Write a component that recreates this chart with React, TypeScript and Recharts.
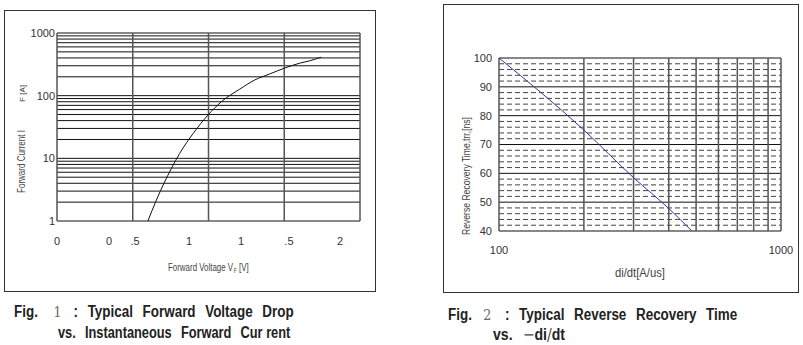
import React from "react";
import { CartesianGrid, Line, LineChart, XAxis, YAxis } from "recharts";

// Fig. 1 — forward voltage drop vs forward current
const fwdVoltage = [0.6, 0.656, 0.755, 0.81, 0.899, 0.998, 1.085, 1.206, 1.305, 1.404, 1.503, 1.602, 1.668, 1.745];
const fwdCurrent = [1, 2.16, 6.9, 12, 25, 49.5, 80, 127, 178, 222, 276, 330, 360, 412];
const fwdGridX = [0, 0.5, 1, 1.5, 2];
const fwdGridY = [
  1, 2, 3, 4, 5, 6, 7, 8, 9, 10, 20, 30, 40, 50, 60, 70, 80, 90, 100, 200,
  300, 400, 500, 600, 700, 800, 900, 1000,
];
const fwdYLabels = [1, 10, 100, 1000];
// the scanned datasheet splits "0.5" / "1.5" into separate pieces
const fwdXTickPos = [0, 0.343, 0.515, 0.871, 1.215, 1.531, 1.868];
const fwdXTickText = ["0", "0", ".5", "1", "1", ".5", "2"];

// Fig. 2 — reverse recovery time vs di/dt
const didt = [100, 200, 300, 400, 483];
const trr = [100, 75, 58.5, 47.8, 40];
const rrGridX = [100, 200, 300, 400, 500, 600, 700, 800, 900, 1000];
const rrMajorY = [40, 50, 60, 70, 80, 90, 100];
const rrMinorY = [
  42, 44, 46, 48, 52, 54, 56, 58, 62, 64, 66, 68, 72, 74, 76, 78, 82, 84, 86,
  88, 92, 94, 96, 98,
];
const rrXLabels = [100, 1000];

const SANS = "'Liberation Sans', Arial, sans-serif";
const tickStyle = { fill: "#333", fontSize: 11, fontFamily: SANS };

const fwdData = fwdVoltage.map((v, i) => ({ v, i: fwdCurrent[i] }));
const rrData = didt.map((d, i) => ({ d, t: trr[i] }));

// the datasheet uses a condensed face; squeeze Liberation Sans horizontally
const caption = (sx: number): React.CSSProperties => ({
  position: "absolute",
  fontFamily: SANS,
  fontWeight: "bold",
  fontSize: 16,
  color: "#222",
  whiteSpace: "pre",
  lineHeight: "18px",
  wordSpacing: 7,
  transform: `scaleX(${sx})`,
  transformOrigin: "left center",
});
const num = (ml: number, mr: number): React.CSSProperties => ({
  fontFamily: "'DejaVu Serif', serif",
  fontWeight: "normal",
  color: "#666",
  fontSize: 15,
  marginLeft: ml,
  marginRight: mr,
});
const thin: React.CSSProperties = {
  fontFamily: "'DejaVu Serif', serif",
  fontWeight: "normal",
  color: "#444",
};

function FwdYLabel() {
  return (
    <g fontFamily={SANS} fill="#444">
      <text
        transform="rotate(-90 25 193)"
        x={25}
        y={193}
        fontSize={11}
        textLength={63}
        lengthAdjust="spacingAndGlyphs"
      >
        Forward  Current  I
      </text>
      <text
        transform="rotate(-90 25 102)"
        x={25}
        y={102}
        fontSize={8}
        textLength={17}
        lengthAdjust="spacingAndGlyphs"
      >
        F [A]
      </text>
    </g>
  );
}

function FwdXLabel() {
  return (
    <text transform="translate(168 271) scale(0.72 1)" fontFamily={SANS} fill="#444" fontSize={11}>
      Forward  Voltage  V
      <tspan fontSize={7} dy={2} dx={1}>
        F
      </tspan>
      <tspan dy={-2} dx={3}>
        [V]
      </tspan>
    </text>
  );
}

export default function App() {
  return (
    <div style={{ position: "absolute", left: 0, top: 0, width: 803, height: 345, background: "#fff" }}>
      <div style={{ position: "absolute", left: 4, top: 10, width: 370, height: 280, border: "1px solid #333" }} />
      <div style={{ position: "absolute", left: 443, top: 4, width: 354, height: 287, border: "1px solid #333" }} />

      <div style={{ position: "absolute", left: 0, top: 0 }}>
        <LineChart width={400} height={290} data={fwdData} margin={{ top: 33, right: 40, bottom: 68, left: 56 }}>
          <CartesianGrid vertical={false} horizontalValues={fwdGridY} stroke="#111" strokeWidth={1} />
          <CartesianGrid horizontal={false} verticalValues={fwdGridX} stroke="#555" strokeWidth={1.5} />
          <XAxis
            dataKey="v"
            type="number"
            domain={[0, 2]}
            ticks={fwdXTickPos}
            interval={0}
            tickFormatter={(_v: number, i: number) => fwdXTickText[i]}
            axisLine={false}
            tickLine={false}
            tickSize={0}
            tickMargin={16}
            height={1}
            tick={tickStyle}
            allowDataOverflow
          />
          <YAxis
            type="number"
            scale="log"
            domain={[1, 1000]}
            ticks={fwdGridY}
            interval={0}
            tickFormatter={(v: number) => (fwdYLabels.includes(v) ? String(v) : "")}
            axisLine={false}
            tickLine={false}
            tickSize={0}
            tickMargin={2}
            width={1}
            tick={tickStyle}
            allowDataOverflow
          />
          <Line dataKey="i" type="monotone" stroke="#111" strokeWidth={1} dot={false} isAnimationActive={false} />
          <FwdYLabel />
          <FwdXLabel />
        </LineChart>
      </div>

      <div style={{ position: "absolute", left: 420, top: 0 }}>
        <LineChart width={383} height={290} data={rrData} margin={{ top: 58, right: 22, bottom: 58, left: 78 }}>
          <CartesianGrid vertical={false} horizontalValues={rrMinorY} stroke="#444" strokeDasharray="5 3" />
          <CartesianGrid vertical={false} horizontalValues={rrMajorY} stroke="#111" />
          <CartesianGrid horizontal={false} verticalValues={rrGridX} stroke="#555" strokeWidth={1.5} />
          <XAxis
            dataKey="d"
            type="number"
            scale="log"
            domain={[100, 1000]}
            ticks={rrXLabels}
            interval={0}
            axisLine={false}
            tickLine={false}
            tickSize={0}
            tickMargin={15}
            height={1}
            tick={tickStyle}
            allowDataOverflow
          />
          <YAxis
            type="number"
            domain={[40, 100]}
            ticks={rrMajorY}
            interval={0}
            axisLine={false}
            tickLine={false}
            tickSize={0}
            tickMargin={7}
            width={1}
            tick={tickStyle}
            allowDataOverflow
          />
          <Line dataKey="t" type="monotone" stroke="#33339a" strokeWidth={1} dot={false} isAnimationActive={false} />
          <text
            transform="rotate(-90 50 176)"
            x={50}
            y={176}
            textAnchor="middle"
            fontSize={11}
            fontFamily={SANS}
            fill="#444"
            textLength={118}
            lengthAdjust="spacingAndGlyphs"
          >
            Reverse Recovery Time,trr,[ns]
          </text>
          <text
            x={220}
            y={277}
            textAnchor="middle"
            fontSize={12}
            fontFamily={SANS}
            fill="#444"
            textLength={50}
            lengthAdjust="spacingAndGlyphs"
          >
            di/dt[A/us]
          </text>
        </LineChart>
      </div>

      <div style={{ ...caption(0.84), left: 14, top: 303 }}>
        Fig. <span style={num(7, 3)}>1</span> : Typical Forward Voltage Drop
      </div>
      <div style={{ ...caption(0.8), left: 58, top: 324 }}>
        vs. Instantaneous Forward Cur<span style={{ wordSpacing: 0 }}> </span>rent
      </div>
      <div style={{ ...caption(0.84), left: 448, top: 306 }}>
        Fig. <span style={num(2, 5)}>2</span> : Typical Reverse Recovery Time
      </div>
      <div style={{ ...caption(0.88), left: 493, top: 326 }}>
        vs. <span style={thin}>−</span>di<span style={thin}>/</span>dt
      </div>
    </div>
  );
}
